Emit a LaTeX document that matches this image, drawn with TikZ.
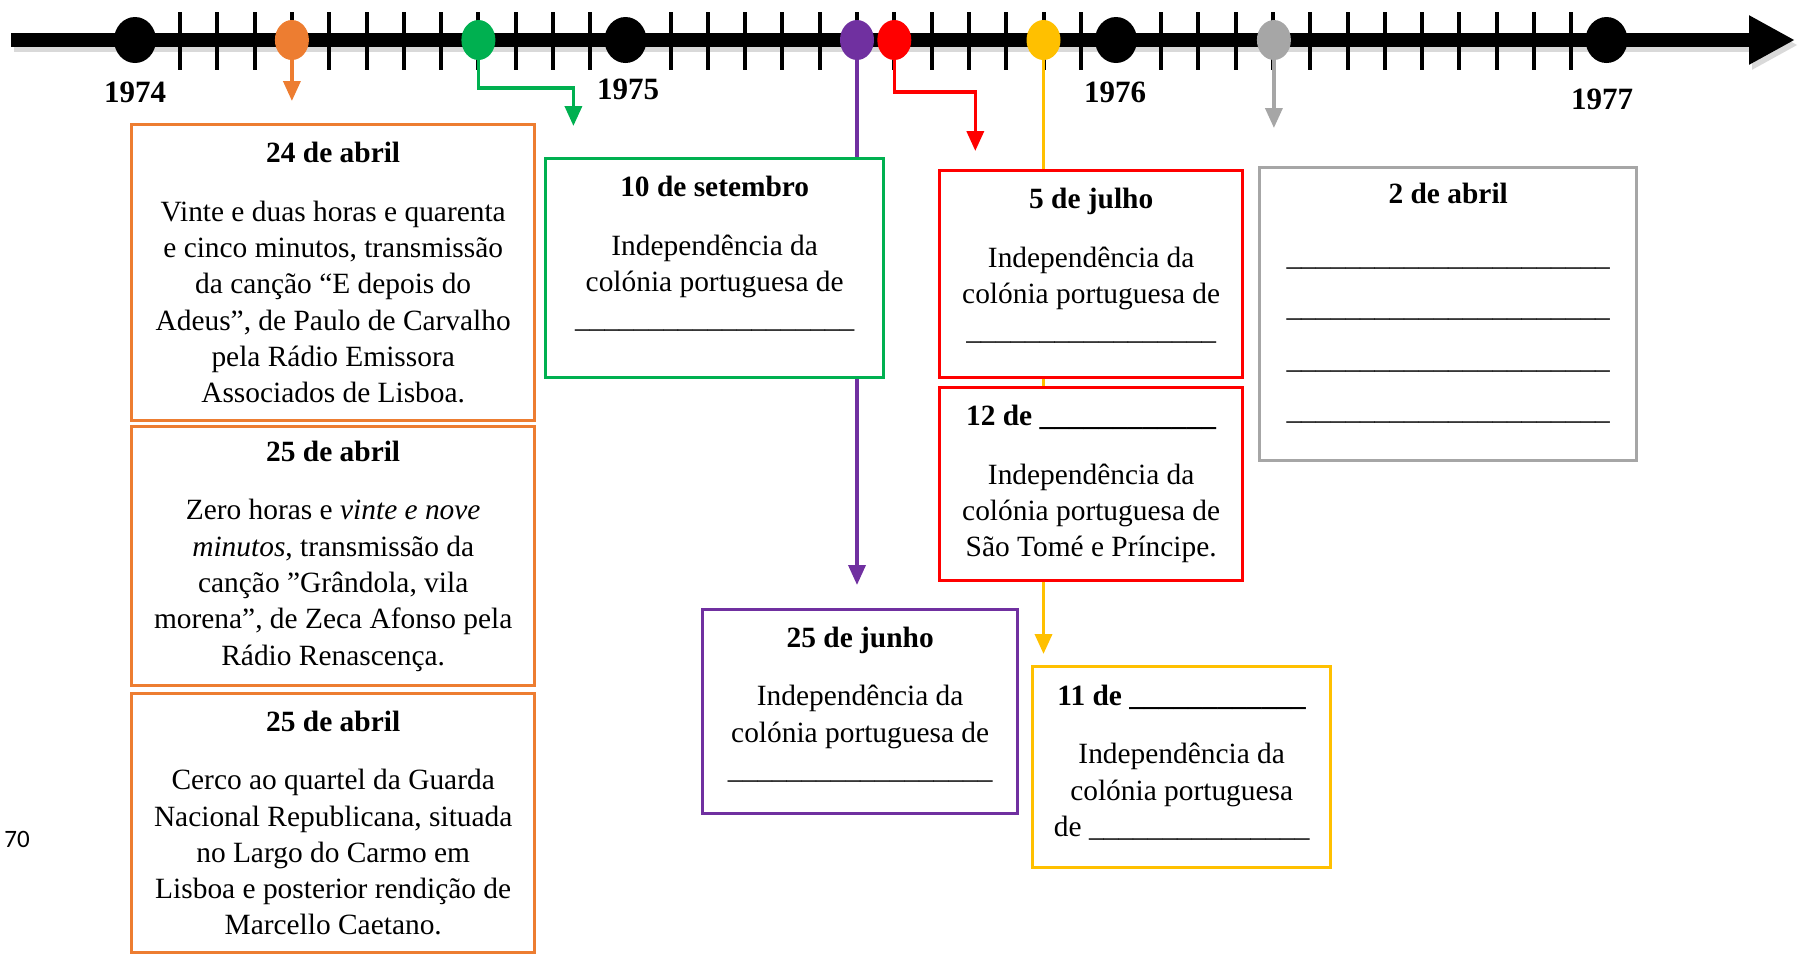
\documentclass[tikz,border=0pt]{standalone}
\usepackage{fontspec}
\setmainfont{Liberation Serif}
\newfontfamily\pagefont{Carlito}
\usetikzlibrary{arrows.meta,positioning,shapes.geometric}
\definecolor{tlorange}{RGB}{237,125,49}
\definecolor{tlgreen}{RGB}{0,176,80}
\definecolor{tlpurple}{RGB}{112,48,160}
\definecolor{tlred}{RGB}{255,0,0}
\definecolor{tlgold}{RGB}{255,192,0}
\definecolor{tlgray}{RGB}{166,166,166}
\newcommand{\blank}[1]{\foreach \bk in {1,...,#1}{\_}}
\newcommand{\padbot}[1]{\rule[-#1]{0pt}{#1}}

\begin{document}
\begin{tikzpicture}[
    x=0.5pt, y=-0.5pt,
    evbox/.style={draw, line width=1.7pt, fill=white, align=center, inner sep=0pt, anchor=north west,
        font=\fontsize{14.7pt}{18.15pt}\selectfont},
    yeardot/.style={ellipse, fill=black, minimum width=21pt, minimum height=23pt, inner sep=0pt},
    evdot/.style={ellipse, minimum width=17pt, minimum height=20pt, inner sep=0pt},
    yearlbl/.style={font=\fontsize{15.5pt}{18pt}\selectfont\bfseries},
    mtick/.style={line width=2pt},
    axisline/.style={line width=7pt, -{Triangle[length=23pt,width=23pt]}},
    conn/.style={line width=1.8pt, -{Triangle[length=10pt,width=8.5pt]}}
]
\useasboundingbox (0,0) rectangle (1798,955);

% time axis
\coordinate (axStart) at (11,40);
\coordinate (axEnd) at (1795,40);
\draw[axisline, black!15] ([shift={(3,5)}]axStart) -- ([shift={(3,5)}]axEnd);
\draw[axisline] (axStart) -- (axEnd);
\foreach \yr in {0,1,2}
  \foreach \m in {1,...,12}
    \draw[mtick] ({142.7+490.5*\yr+37.3*\m},12) -- ++(0,58);

% years
\foreach \yr/\lbl in {0/74,1/75,2/76,3/77}
  \node[yeardot] (y\lbl) at ({135+490.5*\yr},40) {};
\node[yearlbl] (l74) at (135,92) {1974};
\node[yearlbl] (l75) at (628,89) {1975};
\node[yearlbl] (l76) at (1115,92) {1976};
\node[yearlbl] (l77) at (1602,99) {1977};

% events on the axis
\node[evdot, fill=tlorange] (dAbr74) at (291.9,40) {};
\node[evdot, fill=tlgreen] (dSet74) at (478.4,40) {};
\node[evdot, fill=tlpurple] (dJun75) at (857,40) {};
\node[evdot, fill=tlred] (dJul75) at (894.3,40) {};
\node[evdot, fill=tlgold] (dNov75) at (1043.5,40) {};
\node[evdot, fill=tlgray] (dAbr76) at (1273.9,40) {};

\path (dAbr74) ++(0,61) coordinate (tipAbr74);
\path (dSet74) ++(0,48) coordinate (kneeSet74a) ++(95,0) coordinate (kneeSet74b) ++(0,38) coordinate (tipSet74);
\path (dJun75) ++(0,545) coordinate (tipJun75);
\path (dJul75) ++(0,52) coordinate (kneeJul75a) ++(81,0) coordinate (kneeJul75b) ++(0,59) coordinate (tipJul75);
\path (dNov75) ++(0,614) coordinate (tipNov75);
\path (dAbr76) ++(0,88) coordinate (tipAbr76);

\draw[conn, tlorange] (dAbr74) -- (tipAbr74);
\draw[conn, tlgreen] (dSet74) -- (kneeSet74a) -- (kneeSet74b) -- (tipSet74);
\draw[conn, tlpurple] (dJun75) -- (tipJun75);
\draw[conn, tlred] (dJul75) -- (kneeJul75a) -- (kneeJul75b) -- (tipJul75);
\draw[conn, tlgold] (dNov75) -- (tipNov75);
\draw[conn, tlgray] (dAbr76) -- (tipAbr76);

% boxes
\node[evbox, draw=tlorange, minimum width=201.5pt, minimum height=148pt] (ab24) at (130,123) {\textbf{24 de abril}\\[11pt]
  Vinte e duas horas e quarenta\\
  e cinco minutos, transmissão\\
  da canção “E depois do\\
  Adeus”, de Paulo de Carvalho\\
  pela Rádio Emissora\\
  Associados de Lisboa.};
\node[evbox, draw=tlorange, minimum width=201.5pt, minimum height=129.5pt, below=1.3pt of ab24, anchor=north] (ab25a) {\textbf{25 de abril}\\[11pt]
  Zero horas e \textit{vinte e nove}\\
  \textit{minutos}, transmissão da\\
  canção ”Grândola, vila\\
  morena”, de Zeca Afonso pela\\
  Rádio Renascença.};
\node[evbox, draw=tlorange, minimum width=201.5pt, minimum height=129.5pt, below=2.3pt of ab25a, anchor=north] (ab25b) {\textbf{25 de abril}\\[11pt]
  Cerco ao quartel da Guarda\\
  Nacional Republicana, situada\\
  no Largo do Carmo em\\
  Lisboa e posterior rendição de\\
  Marcello Caetano.};

\node[evbox, draw=tlgreen, minimum width=169pt, minimum height=109.5pt] (set10) at (544,157) {\textbf{10 de setembro}\\[11pt]
  Independência da\\
  colónia portuguesa de\\
  \blank{19}\padbot{16pt}};

\node[evbox, draw=tlred, minimum width=151.5pt, minimum height=103.5pt] (jul5) at (938,169) {\textbf{5 de julho}\\[11pt]
  Independência da\\
  colónia portuguesa de\\
  \blank{17}\padbot{10pt}};
\node[evbox, draw=tlred, minimum width=151.5pt, minimum height=96.5pt, below=3.3pt of jul5, anchor=north] (jul12) {\textbf{12 de \blank{12}}\\[11pt]
  Independência da\\
  colónia portuguesa de\\
  São Tomé e Príncipe.};

\node[evbox, draw=tlgray, minimum width=188.5pt, minimum height=146.5pt] (abr2) at (1258,166) {\textbf{2 de abril}\\[13pt]
  \blank{22}\\[7.6pt]
  \blank{22}\\[7.6pt]
  \blank{22}\\[7.6pt]
  \blank{22}\padbot{13pt}};

\node[evbox, draw=tlpurple, minimum width=157.5pt, minimum height=102pt] (jun25) at (701,608) {\textbf{25 de junho}\\[11pt]
  Independência da\\
  colónia portuguesa de\\
  \blank{18}\padbot{9pt}};

\node[evbox, draw=tlgold, minimum width=149pt, minimum height=100.5pt] (nov11) at (1031,665) {\textbf{11 de \blank{12}}\\[11pt]
  Independência da\\
  colónia portuguesa\\
  de \blank{15}\padbot{6.5pt}};

\node[font=\pagefont\fontsize{12.5pt}{15pt}\selectfont] (pg70) at (17,839) {70};
\end{tikzpicture}
\end{document}
